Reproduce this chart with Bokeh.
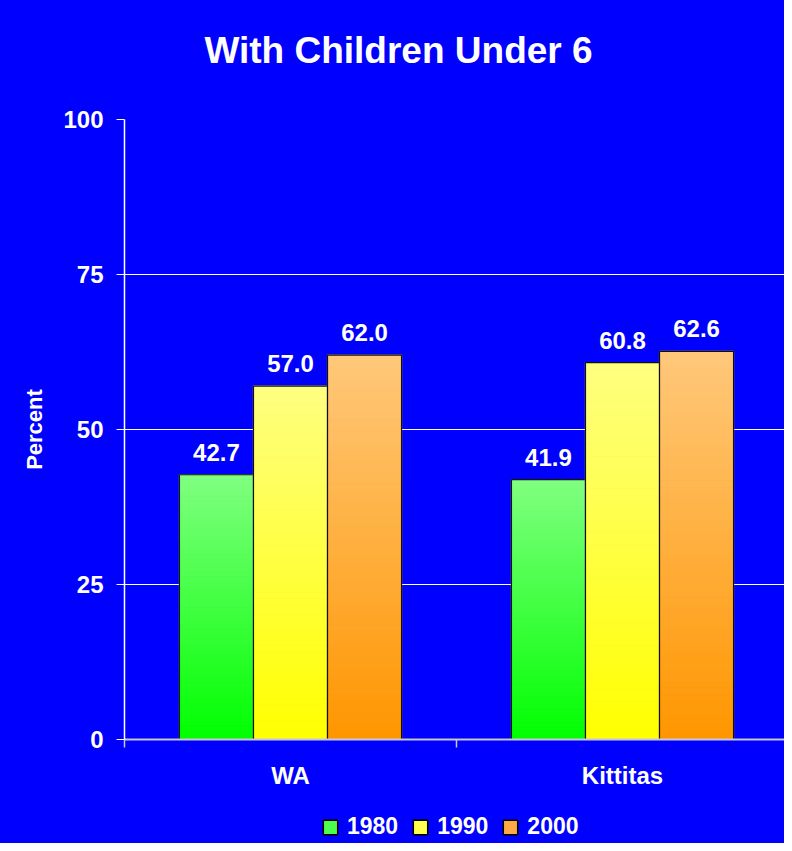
import numpy as np
from bokeh.plotting import figure
from bokeh.layouts import column
from bokeh.models import (Range1d, FixedTicker, Legend, LegendItem, ColumnDataSource, Label)
from bokeh.core.properties import value
from bokeh.embed import file_html
from bokeh.resources import INLINE

# ---- data ----
title_text = "With Children Under 6"
categories = ["WA", "Kittitas"]
years = ["1980", "1990", "2000"]
v1980 = [42.7, 41.9]
v1990 = [57.0, 60.8]
v2000 = [62.0, 62.6]
y_ticks = [0, 25, 50, 75, 100]

series = [v1980, v1990, v2000]
# gradient colours (bottom, top) per series
grad = [((0x00, 0xff, 0x00), (0x80, 0xff, 0x80)),
        ((0xff, 0xff, 0x00), (0xff, 0xff, 0x80)),
        ((0xff, 0x96, 0x00), (0xff, 0xc8, 0x7a))]
legend_fill = ["#4cff4c", "#ffff4c", "#ffaa44"]

FONT = value("Liberation Sans")
BG = "#0000ff"
bar_w = 0.223
offsets = [-bar_w, 0.0, bar_w]

W = 784
H0, H1, H2 = 90, 720, 33
left_px, top_px = 124, 29
bottom_px = 71
cat_px = 332.0


def strip(h):
    f = figure(width=W, height=h, output_backend="svg", toolbar_location=None,
               x_range=Range1d(0, 1), y_range=Range1d(0, 1),
               min_border_left=0, min_border_right=0, min_border_top=0, min_border_bottom=0,
               background_fill_color=BG, border_fill_color=BG, outline_line_color=None)
    f.axis.visible = False
    f.grid.visible = False
    return f


# ---- title strip (frame is aligned with the main chart's frame) ----
p0 = strip(H0)
p0.add_layout(Label(x=398 - left_px, y=40, x_units="screen", y_units="screen", text=title_text,
                    text_font="Liberation Sans", text_font_style="bold", text_font_size="37px",
                    text_color="white", text_align="center", text_baseline="alphabetic"))

# ---- main chart ----
p = figure(width=W, height=H1, output_backend="svg", toolbar_location=None,
           x_range=Range1d(0, (W - left_px) / cat_px), y_range=Range1d(0, 100),
           min_border_left=left_px, min_border_right=0,
           min_border_top=top_px, min_border_bottom=bottom_px,
           background_fill_color=BG, border_fill_color=BG, outline_line_color=None)

N = 60
for si, vals in enumerate(series):
    (b0, b1) = grad[si]
    xs, bots, tops, cols = [], [], [], []
    for ci, v in enumerate(vals):
        xc = ci + 0.5 + offsets[si]
        for k in range(N):
            t = (k + 0.5) / N
            c = tuple(int(round(b0[j] + (b1[j] - b0[j]) * t)) for j in range(3))
            xs.append(xc)
            bots.append(v * k / N)
            tops.append(v * (k + 1) / N)
            cols.append("#%02x%02x%02x" % c)
    src = ColumnDataSource(dict(x=xs, bottom=bots, top=tops, color=cols))
    p.vbar(x="x", bottom="bottom", top="top", width=bar_w, fill_color="color",
           line_color="color", line_width=1.2, source=src)
    xo = [ci + 0.5 + offsets[si] for ci in range(len(vals))]
    p.vbar(x=xo, top=vals, bottom=0, width=bar_w, fill_alpha=0,
           line_color="#101010", line_width=1.2)
    p.text(x=xo, y=vals, text=["%.1f" % v for v in vals], text_font=FONT,
           text_font_style="bold", text_font_size="24px", text_color="white",
           text_align="center", text_baseline="bottom", y_offset=-14)

p.grid.grid_line_color = None
p.ygrid.grid_line_color = "white"
p.ygrid.grid_line_width = 1
p.ygrid.ticker = FixedTicker(ticks=y_ticks[1:])

ya = p.yaxis[0]
ya.ticker = FixedTicker(ticks=y_ticks)
ya.axis_line_color = "white"
ya.axis_line_width = 1.5
ya.major_tick_line_color = "white"
ya.major_tick_out = 8
ya.major_tick_in = 0
ya.minor_tick_line_color = None
ya.major_label_text_color = "white"
ya.major_label_text_font = "Liberation Sans"
ya.major_label_text_font_style = "bold"
ya.major_label_text_font_size = "24px"
ya.major_label_standoff = 13
ya.axis_label = "Percent"
ya.axis_label_text_color = "white"
ya.axis_label_text_font = "Liberation Sans"
ya.axis_label_text_font_style = "bold"
ya.axis_label_text_font_size = "22px"
ya.axis_label_standoff = 13

xa = p.xaxis[0]
xa.ticker = FixedTicker(ticks=[i + 0.5 for i in range(len(categories))],
                        minor_ticks=list(range(len(categories) + 1)))
xa.major_label_overrides = {i + 0.5: c for i, c in enumerate(categories)}
xa.axis_line_color = "#c8c8d8"
xa.axis_line_width = 2
xa.major_tick_line_color = None
xa.minor_tick_line_color = "#c8c8d8"
xa.minor_tick_line_width = 1.5
xa.minor_tick_out = 8
xa.minor_tick_in = 0
xa.major_label_text_color = "white"
xa.major_label_text_font = "Liberation Sans"
xa.major_label_text_font_style = "bold"
xa.major_label_text_font_size = "24px"
xa.major_label_standoff = 14

# ---- legend strip ----
p2 = strip(H2)
legend_items = []
for si, vals in enumerate(series):
    # zero-size rects: only used to draw the legend swatch
    lr = p2.vbar(x=[0.5] * len(vals), top=[0] * len(vals), bottom=0, width=0,
                 fill_color=legend_fill[si], line_color="black", line_width=1.5)
    legend_items.append(LegendItem(label=years[si], renderers=[lr]))
legend = Legend(items=legend_items, orientation="horizontal", location=(197, 3),
                glyph_width=18, glyph_height=18, label_standoff=8, spacing=13,
                padding=0, margin=0, background_fill_alpha=0, border_line_alpha=0,
                label_text_color="white", label_text_font="Liberation Sans",
                label_text_font_style="bold", label_text_font_size="23px")
p2.add_layout(legend, "center")

layout = column(p0, p, p2, spacing=0, styles={"background-color": BG})
open("out.html", "w").write(file_html(layout, INLINE))
